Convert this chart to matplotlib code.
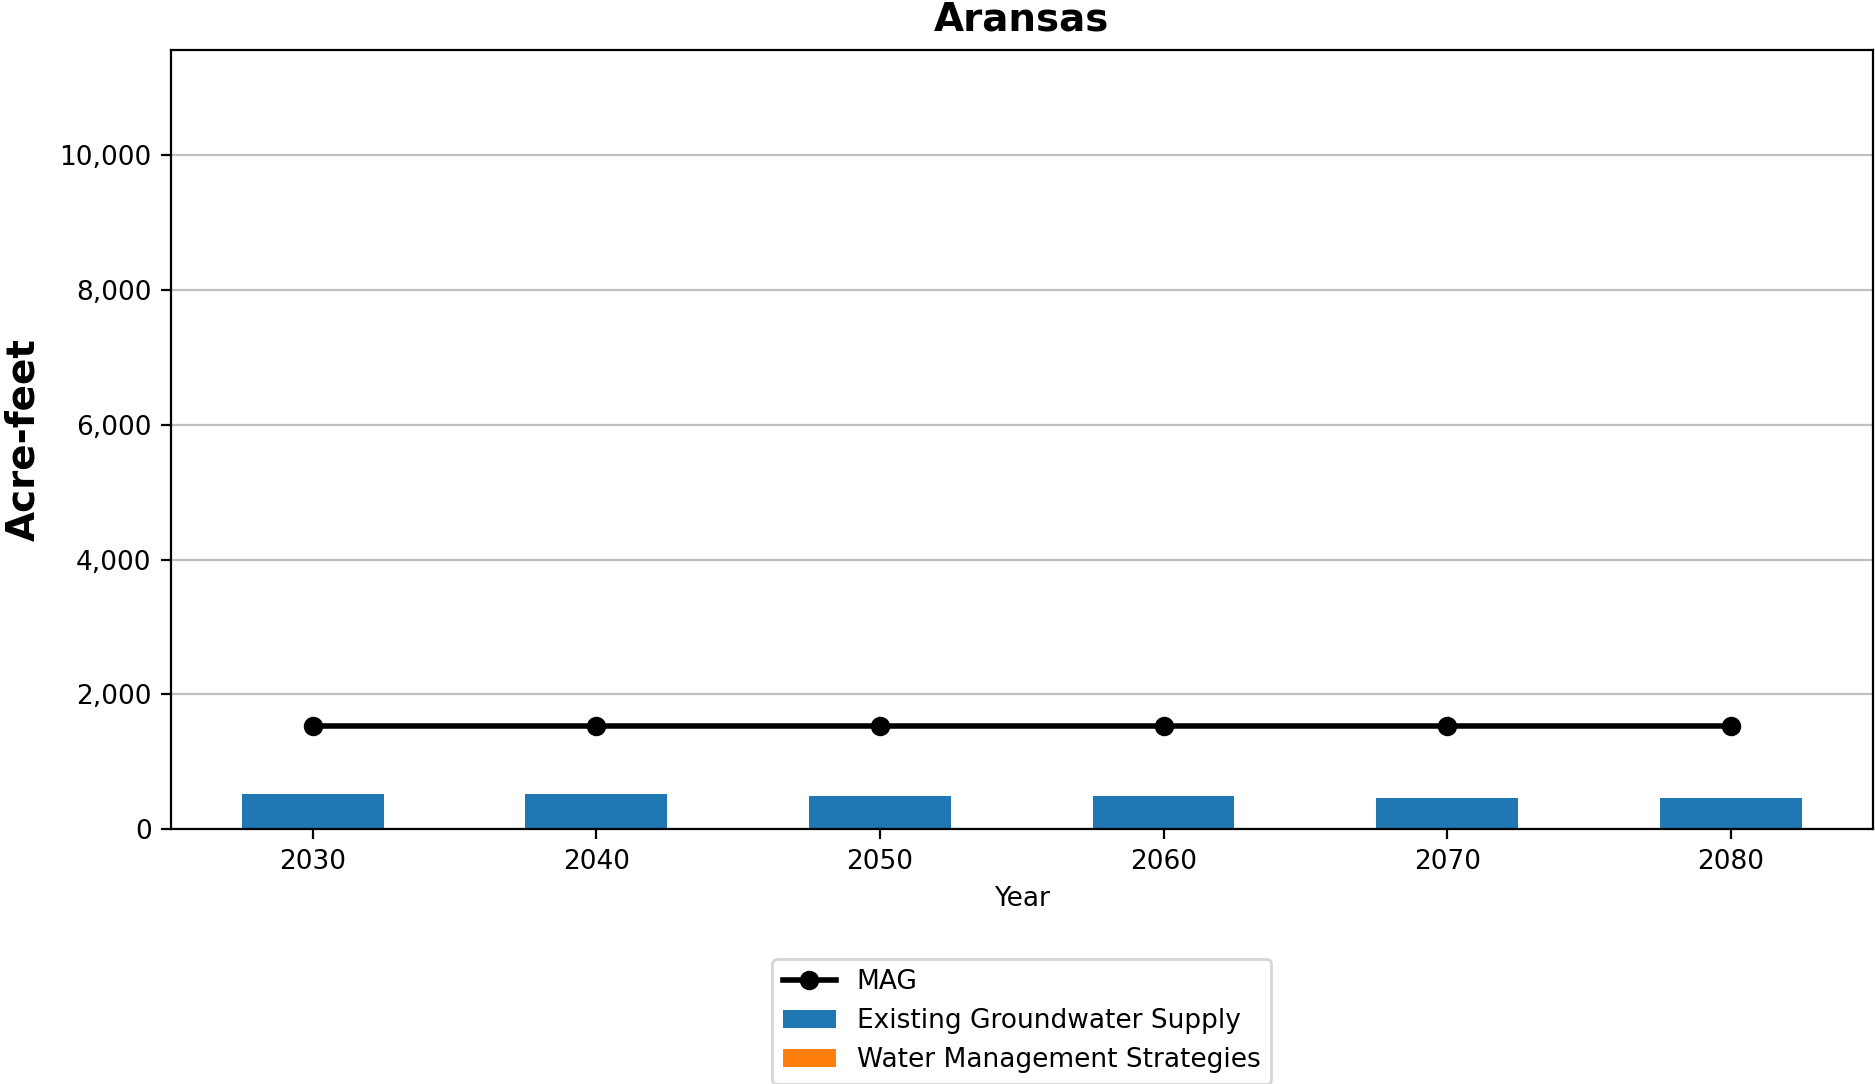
import numpy as np
import matplotlib.pyplot as plt
from matplotlib.ticker import FuncFormatter

# data
county = 'Aransas'
years = ['2030', '2040', '2050', '2060', '2070', '2080']
mag = [1530, 1530, 1530, 1530, 1530, 1530]
existing_supply = [530, 530, 500, 500, 470, 470]
strategies = [0, 0, 0, 0, 0, 0]

fig = plt.figure(figsize=(9.375, 5.42), dpi=200)
ax = fig.add_axes([0.0912, 0.235, 0.9075, 0.7187])

x = np.arange(len(years))
ax.plot(x, mag, color='black', marker='o', lw=2, ms=6, label='MAG', zorder=3)
ax.bar(x, existing_supply, width=0.5, color='#1f77b4', label='Existing Groundwater Supply', zorder=2)
ax.bar(x, strategies, width=0.5, bottom=existing_supply, color='#ff7f0e',
       label='Water Management Strategies', zorder=2)

ax.set_xlim(-0.5, 5.5)
ax.set_ylim(0, 11560)
ax.set_xticks(x)
ax.set_xticklabels(years, fontsize=9.5)
ax.set_yticks([0, 2000, 4000, 6000, 8000, 10000])
ax.yaxis.set_major_formatter(FuncFormatter(lambda v, p: '{:,.0f}'.format(v)))
ax.tick_params(axis='y', labelsize=9.5)
ax.grid(axis='y', color='#c0c0c0', lw=0.8, zorder=0)
ax.set_axisbelow(True)

ax.set_title(county, fontsize=14, fontweight='bold', pad=7)
ax.set_ylabel('Acre-feet', fontsize=14, fontweight='bold', labelpad=6)
ax.set_xlabel('Year', fontsize=9.5)

ax.legend(loc='upper center', bbox_to_anchor=(0.5, -0.149), fontsize=9.5)

fig.savefig('out.png', dpi=200)
